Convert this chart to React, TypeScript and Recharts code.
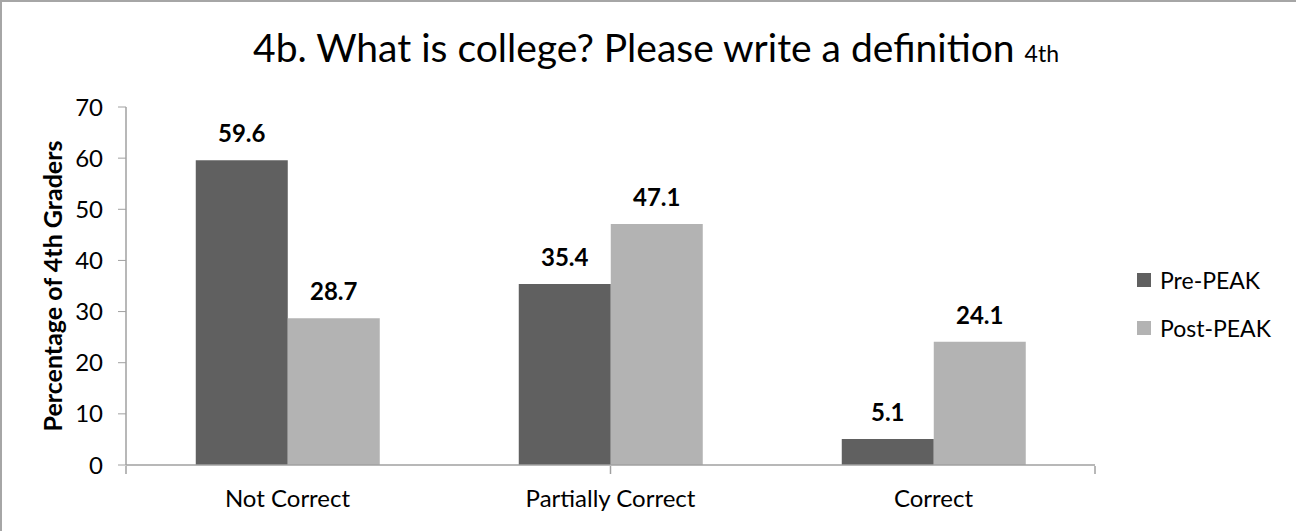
import React from "react"
import { BarChart, Bar, XAxis, YAxis, LabelList } from "recharts"

const categories = ["Not Correct", "Partially Correct", "Correct"]
const prePeak = [59.6, 35.4, 5.1]
const postPeak = [28.7, 47.1, 24.1]
const yTicks = [0, 10, 20, 30, 40, 50, 60, 70]
const boundaryTicks = [0, 1, 2, 3]

const seriesInfo = [
  { key: "pre", name: "Pre-PEAK", color: "#606060" },
  { key: "post", name: "Post-PEAK", color: "#b3b3b3" },
]

const FONT = "Lato, 'Noto Sans', sans-serif"
const AXIS = "#a0a0a0"

const chartData = categories.map((c, i) => ({
  category: c,
  pre: prePeak[i],
  post: postPeak[i],
}))

function LegendBox() {
  return (
    <div style={{ position: "absolute", left: 1135, top: 254, fontFamily: FONT, fontSize: 23, color: "#000" }}>
      {seriesInfo.map((s) => (
        <div key={s.key} style={{ display: "flex", alignItems: "center", height: 48 }}>
          <span style={{ display: "inline-block", width: 14, height: 14, background: s.color, marginRight: 9 }} />
          <span>{s.name}</span>
        </div>
      ))}
    </div>
  )
}

export default function App() {
  return (
    <div
      style={{
        position: "absolute",
        left: 0,
        top: 0,
        width: 1296,
        height: 531,
        background: "#fff",
        borderTop: "2px solid #a6a6a6",
        borderLeft: "2px solid #a6a6a6",
        boxSizing: "border-box",
        fontFamily: FONT,
      }}
    >
      <div
        style={{
          position: "absolute",
          top: 21,
          left: 6,
          width: 1296,
          textAlign: "center",
          fontSize: 39,
          lineHeight: "48px",
          color: "#000",
          whiteSpace: "nowrap",
        }}
      >
        4b. What is college? Please write a definition <span style={{ fontSize: 23 }}>4th</span>
      </div>
      <div style={{ position: "absolute", left: -2, top: -2 }}>
        <BarChart
          width={1296}
          height={531}
          data={chartData}
          margin={{ top: 107, right: 201, left: 66, bottom: 64 }}
          barCategoryGap="21.6%"
          barGap={0}
        >
          <XAxis
            dataKey="category"
            tickLine={false}
            axisLine={{ stroke: AXIS, strokeWidth: 1.5 }}
            tick={{ fill: "#000", fontSize: 24, fontFamily: FONT }}
            tickMargin={19}
            height={1}
            interval={0}
          />
          <XAxis
            xAxisId="bounds"
            type="number"
            domain={[0, 3]}
            ticks={boundaryTicks}
            tick={() => <g />}
            tickSize={8}
            tickLine={{ stroke: AXIS, strokeWidth: 1.5 }}
            axisLine={false}
            height={1}
            allowDataOverflow
          />
          <YAxis
            domain={[0, 70]}
            ticks={yTicks}
            width={60}
            tickSize={8}
            stroke={AXIS}
            axisLine={{ stroke: AXIS, strokeWidth: 1.5 }}
            tick={{ fill: "#000", fontSize: 24, fontFamily: FONT }}
            tickMargin={15}
            label={{
              value: "Percentage of 4th Graders",
              angle: -90,
              position: "insideLeft",
              offset: -13,
              style: { textAnchor: "middle", fontWeight: 700, fontSize: 25, fill: "#000", fontFamily: FONT },
            }}
          />
          {seriesInfo.map((s) => (
            <Bar key={s.key} dataKey={s.key} name={s.name} fill={s.color} isAnimationActive={false}>
              <LabelList
                dataKey={s.key}
                position="top"
                offset={18}
                style={{ fontWeight: 700, fontSize: 24, fill: "#000", fontFamily: FONT }}
              />
            </Bar>
          ))}
        </BarChart>
      </div>
      <LegendBox />
    </div>
  )
}
